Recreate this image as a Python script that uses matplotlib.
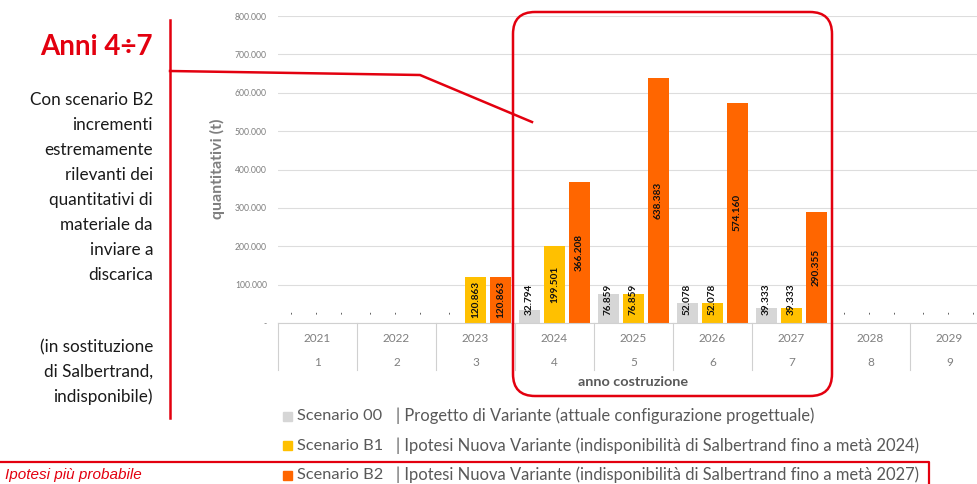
import matplotlib.pyplot as plt
from matplotlib.patches import FancyBboxPatch, Rectangle
import numpy as np

# dati
anni = ['2021', '2022', '2023', '2024', '2025', '2026', '2027', '2028', '2029']
anno_costr = ['1', '2', '3', '4', '5', '6', '7', '8', '9']
scenario_00 = [0, 0, 0, 32794, 76859, 52078, 39333, 0, 0]
scenario_b1 = [0, 0, 120863, 199501, 76859, 52078, 39333, 0, 0]
scenario_b2 = [0, 0, 120863, 366208, 638383, 574160, 290355, 0, 0]

nomi = ['Scenario 00', 'Scenario B1', 'Scenario B2']
descrizioni = [
    '| Progetto di Variante (attuale configurazione progettuale)',
    '| Ipotesi Nuova Variante (indisponibilità di Salbertrand fino a metà 2024)',
    '| Ipotesi Nuova Variante (indisponibilità di Salbertrand fino a metà 2027)',
]
colori = ['#D6D6D6', '#FFC000', '#FF6600']

testo_sx = ['Con scenario B2', 'incrementi', 'estremamente', 'rilevanti dei',
            'quantitativi di', 'materiale da', 'inviare a', 'discarica']
testo_sx2 = ['(in sostituzione', 'di Salbertrand,', 'indisponibile)']

ROSSO = '#E3000F'
GRIGIO = '#7F7F7F'

plt.rcParams['font.family'] = ['Lato', 'DejaVu Sans']

W, H = 977, 484
fig = plt.figure(figsize=(W / 100, H / 100), dpi=100)


def box(x0, y0, x1, y1):
    # pixel (origine in alto a sinistra) -> frazioni figura
    return [x0 / W, 1 - y1 / H, (x1 - x0) / W, (y1 - y0) / H]


AX_TOP, AX_BOT = 16, 323
ax = fig.add_axes(box(278, AX_TOP, 989, AX_BOT))


def fy(ypx):
    return (AX_BOT - ypx) / (AX_BOT - AX_TOP)


x = np.arange(len(anni))
serie = [scenario_00, scenario_b1, scenario_b2]
offs = [-0.317, 0, 0.317]
for valori, off, col in zip(serie, offs, colori):
    ax.bar(x + off, valori, width=0.27, color=col, zorder=2)
    for xi, v in zip(x, valori):
        if v > 0:
            ax.text(xi + off, max(v / 2, 62000), f'{v:,}'.replace(',', '.'),
                    rotation=90, ha='center', va='center', fontsize=7.2,
                    fontweight='bold', color='#111111', zorder=3)
        else:
            ax.text(xi + off, 26000, '-', rotation=90, ha='center', va='center',
                    fontsize=5, fontweight='bold', color='#333333', zorder=3)

ax.set_xlim(-0.5, len(anni) - 0.5)
ax.set_ylim(0, 800000)
yt = np.arange(0, 800001, 100000)
ax.set_yticks(yt)
ax.set_yticklabels(['-' if v == 0 else f'{v:,}'.replace(',', '.') for v in yt])
ax.tick_params(axis='y', length=0, labelsize=6.2, labelcolor=GRIGIO, pad=8)
ax.set_xticks([])
for s in ['top', 'right', 'left']:
    ax.spines[s].set_visible(False)
ax.spines['bottom'].set_color('#D0D0D0')
ax.yaxis.grid(True, color='#DDDDDD', lw=0.8, zorder=0)
ax.set_axisbelow(True)

# tabella categorie sotto l'asse
tr = ax.get_xaxis_transform()
for i in range(len(anni)):
    ax.text(i, fy(339), anni[i], transform=tr, ha='center', va='center',
            fontsize=8.5, color=GRIGIO)
    ax.text(i, fy(362), anno_costr[i], transform=tr, ha='center', va='center',
            fontsize=8.5, color=GRIGIO)
for b in np.arange(-0.5, len(anni), 1):
    ax.plot([b, b], [0, fy(370)], transform=tr, color='#D0D0D0', lw=0.8,
            clip_on=False)
ax.text(4, fy(382), 'anno costruzione', transform=tr, ha='center', va='center',
        fontsize=10.4, fontweight='bold', color='#595959')

# livello sovrapposto in pixel per annotazioni e legenda
ov = fig.add_axes([0, 0, 1, 1], zorder=5)
ov.set_xlim(0, W)
ov.set_ylim(H, 0)
ov.axis('off')
ov.patch.set_alpha(0)

ov.text(217, 169, 'quantitativi (t)', rotation=90, ha='center', va='center',
        fontsize=11.5, fontweight='bold', color=GRIGIO)

r = 22
ov.add_patch(FancyBboxPatch((513 + r, 12 + r), 832 - 513 - 2 * r, 396 - 12 - 2 * r,
                            boxstyle=f'round,pad={r}', fc='none', ec=ROSSO, lw=1.8))
ov.plot([170, 170], [20, 418], color=ROSSO, lw=1.8)
ov.plot([170, 420, 532], [71, 75, 122], color=ROSSO, lw=1.8)
ov.plot([0, 929, 929], [462, 462, 490], color=ROSSO, lw=1.6)

ov.text(153, 47, 'Anni 4÷7', ha='right', va='center', fontsize=20,
        fontweight='bold', color=ROSSO)
for k, riga in enumerate(testo_sx):
    ov.text(153, 100 + 25 * k, riga, ha='right', va='center', fontsize=12.3,
            color='#1A1A1A')
for k, riga in enumerate(testo_sx2):
    ov.text(153, 347 + 25 * k, riga, ha='right', va='center', fontsize=12.3,
            color='#1A1A1A')

for k, (nome, desc, col) in enumerate(zip(nomi, descrizioni, colori)):
    yy = 416 + 29.5 * k
    ov.add_patch(Rectangle((283, yy - 4.5), 9, 9, color=col))
    ov.text(297, yy, nome, ha='left', va='center', fontsize=11.8, color='#595959')
    ov.text(396, yy, desc, ha='left', va='center', fontsize=11.9, color='#595959')

ov.text(5, 475, 'Ipotesi più probabile', ha='left', va='center', fontsize=11,
        style='italic', color=ROSSO, family=['Liberation Sans', 'DejaVu Sans'])

fig.savefig('out.png', dpi=100)
